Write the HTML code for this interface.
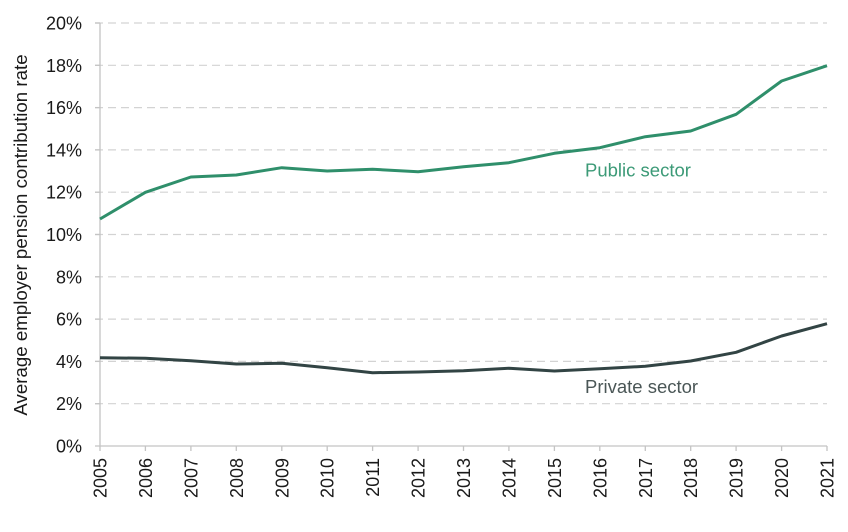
<!DOCTYPE html>
<html><head><meta charset="utf-8"><style>
html,body{margin:0;padding:0;background:#fff;}
svg{display:block;font-family:"Liberation Sans",Arial,sans-serif;}
</style></head><body>
<svg width="848" height="532" viewBox="0 0 848 532" xmlns="http://www.w3.org/2000/svg">
<rect width="848" height="532" fill="#fff"/>
<g stroke="#d3d3d3" stroke-width="1.2" stroke-dasharray="8,5">
<line x1="95" y1="403.7" x2="827" y2="403.7"/>
<line x1="95" y1="361.4" x2="827" y2="361.4"/>
<line x1="95" y1="319.1" x2="827" y2="319.1"/>
<line x1="95" y1="276.8" x2="827" y2="276.8"/>
<line x1="95" y1="234.5" x2="827" y2="234.5"/>
<line x1="95" y1="192.2" x2="827" y2="192.2"/>
<line x1="95" y1="149.9" x2="827" y2="149.9"/>
<line x1="95" y1="107.6" x2="827" y2="107.6"/>
<line x1="95" y1="65.3" x2="827" y2="65.3"/>
<line x1="95" y1="23" x2="827" y2="23"/>
</g>
<g stroke="#c4c4c4" stroke-width="1.3">
<line x1="100" y1="23" x2="100" y2="446"/>
<line x1="95" y1="446" x2="827" y2="446"/>
<line x1="95" y1="23" x2="100" y2="23"/>
<line x1="95" y1="65.3" x2="100" y2="65.3"/>
<line x1="95" y1="107.6" x2="100" y2="107.6"/>
<line x1="95" y1="149.9" x2="100" y2="149.9"/>
<line x1="95" y1="192.2" x2="100" y2="192.2"/>
<line x1="95" y1="234.5" x2="100" y2="234.5"/>
<line x1="95" y1="276.8" x2="100" y2="276.8"/>
<line x1="95" y1="319.1" x2="100" y2="319.1"/>
<line x1="95" y1="361.4" x2="100" y2="361.4"/>
<line x1="95" y1="403.7" x2="100" y2="403.7"/>
<line x1="100" y1="446" x2="100" y2="451"/>
<line x1="145.4" y1="446" x2="145.4" y2="451"/>
<line x1="190.9" y1="446" x2="190.9" y2="451"/>
<line x1="236.3" y1="446" x2="236.3" y2="451"/>
<line x1="281.8" y1="446" x2="281.8" y2="451"/>
<line x1="327.2" y1="446" x2="327.2" y2="451"/>
<line x1="372.6" y1="446" x2="372.6" y2="451"/>
<line x1="418.1" y1="446" x2="418.1" y2="451"/>
<line x1="463.5" y1="446" x2="463.5" y2="451"/>
<line x1="508.9" y1="446" x2="508.9" y2="451"/>
<line x1="554.4" y1="446" x2="554.4" y2="451"/>
<line x1="599.8" y1="446" x2="599.8" y2="451"/>
<line x1="645.3" y1="446" x2="645.3" y2="451"/>
<line x1="690.7" y1="446" x2="690.7" y2="451"/>
<line x1="736.1" y1="446" x2="736.1" y2="451"/>
<line x1="781.6" y1="446" x2="781.6" y2="451"/>
<line x1="827" y1="446" x2="827" y2="451"/>
</g>
<g font-size="18" fill="#1a1a1a" text-anchor="end">
<text x="82" y="29.5">20%</text>
<text x="82" y="71.8">18%</text>
<text x="82" y="114.1">16%</text>
<text x="82" y="156.4">14%</text>
<text x="82" y="198.7">12%</text>
<text x="82" y="241">10%</text>
<text x="82" y="283.3">8%</text>
<text x="82" y="325.6">6%</text>
<text x="82" y="367.9">4%</text>
<text x="82" y="410.2">2%</text>
<text x="82" y="452.5">0%</text>
</g>
<g font-size="18" fill="#1a1a1a" text-anchor="end">
<text transform="translate(106.5,458) rotate(-90)">2005</text>
<text transform="translate(151.9,458) rotate(-90)">2006</text>
<text transform="translate(197.4,458) rotate(-90)">2007</text>
<text transform="translate(242.8,458) rotate(-90)">2008</text>
<text transform="translate(288.3,458) rotate(-90)">2009</text>
<text transform="translate(333.7,458) rotate(-90)">2010</text>
<text transform="translate(379.1,458) rotate(-90)">2011</text>
<text transform="translate(424.6,458) rotate(-90)">2012</text>
<text transform="translate(470,458) rotate(-90)">2013</text>
<text transform="translate(515.4,458) rotate(-90)">2014</text>
<text transform="translate(560.9,458) rotate(-90)">2015</text>
<text transform="translate(606.3,458) rotate(-90)">2016</text>
<text transform="translate(651.8,458) rotate(-90)">2017</text>
<text transform="translate(697.2,458) rotate(-90)">2018</text>
<text transform="translate(742.6,458) rotate(-90)">2019</text>
<text transform="translate(788.1,458) rotate(-90)">2020</text>
<text transform="translate(833.5,458) rotate(-90)">2021</text>
</g>
<text transform="translate(27,235) rotate(-90)" text-anchor="middle" font-size="18.7" fill="#1a1a1a">Average employer pension contribution rate</text>
<polyline fill="none" stroke="#2f8f6b" stroke-width="3" stroke-linejoin="round" points="100,219 145.4,192.3 190.9,177 236.3,175 281.8,167.7 327.2,171 372.6,169.3 418.1,171.7 463.5,166.7 508.9,162.7 554.4,153.3 599.8,147.7 645.3,136.7 690.7,131 736.1,114.3 781.6,81 827,65.7"/>
<polyline fill="none" stroke="#324444" stroke-width="3" stroke-linejoin="round" points="100,357.7 145.4,358.3 190.9,360.7 236.3,364 281.8,363.3 327.2,367.7 372.6,372.7 418.1,372 463.5,370.7 508.9,368.3 554.4,371 599.8,368.7 645.3,366.3 690.7,361 736.1,352.3 781.6,336 827,323.7"/>
<text x="585" y="176.5" font-size="18.5" fill="#3c9a77">Public sector</text>
<text x="585" y="393" font-size="18.5" fill="#4a5656">Private sector</text>
</svg>
</body></html>
